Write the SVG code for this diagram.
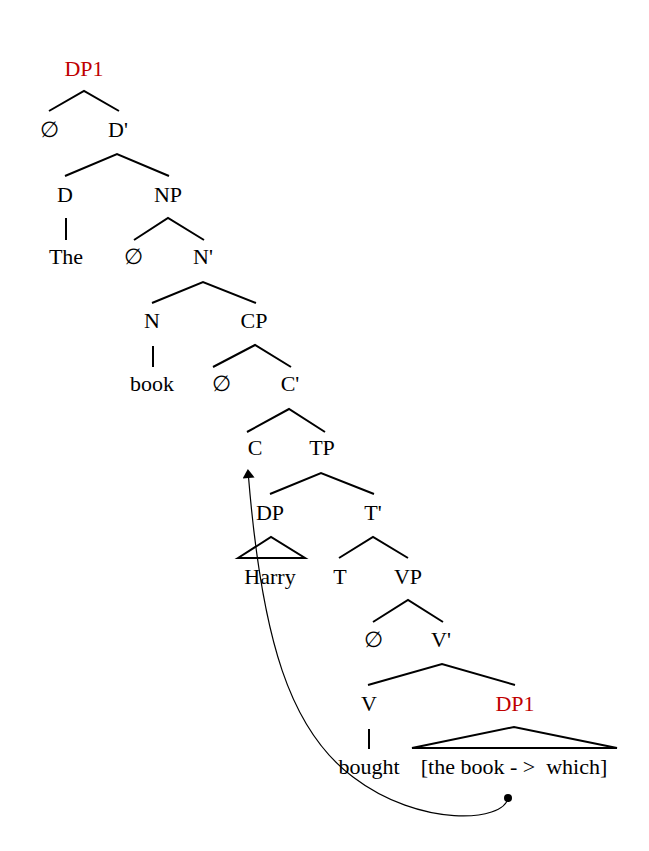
<svg xmlns="http://www.w3.org/2000/svg" width="649" height="851" viewBox="0 0 649 851">
<defs>
<style>
text{font-family:'Liberation Serif',serif;font-size:22px;fill:#000;text-anchor:middle}
text.red{fill:#c00000}
.br{fill:none;stroke:#000;stroke-width:2;stroke-linejoin:miter}
.mv{fill:none;stroke:#000;stroke-width:1.2}
</style>
<marker id="ah" markerUnits="userSpaceOnUse" markerWidth="12" markerHeight="12" viewBox="0 0 10 12" refX="0" refY="6" orient="auto">
<path d="M0,0 L9,6 L0,12 z" fill="#000"/>
</marker>
</defs>
<rect width="649" height="851" fill="#fff"/>
<g id="connectors">
<polyline class="br" points="49,111 84,91 119,111"/>
<polyline class="br" points="65,176 117,154 169,176"/>
<line class="br" x1="66" y1="218" x2="66" y2="240"/>
<polyline class="br" points="134,240 168,218 204,240"/>
<polyline class="br" points="152,303 203,282 256,303"/>
<line class="br" x1="153" y1="346" x2="153" y2="367"/>
<polyline class="br" points="213,367 255,345 291,367"/>
<polyline class="br" points="247,432 289,409 325,432"/>
<polyline class="br" points="270,494 321,473 374,494"/>
<polygon class="br" points="238,558 271,537 305,558"/>
<polyline class="br" points="339,558 373,537 408,558"/>
<polyline class="br" points="373,622 408,600 443,622"/>
<polyline class="br" points="368,685 442,664 515,685"/>
<line class="br" x1="369" y1="729" x2="369" y2="749"/>
<polygon class="br" points="412,748 514,727 617,748"/>
<path class="mv" d="M508,798 C504,822 420,828 353,777 C290,730 262,640 248.6,478" marker-end="url(#ah)"/>
<circle cx="508" cy="798" r="4" fill="#000"/>
</g>
<g font-family="Liberation Serif, serif">
<g id="n-dp1-top"><text class="red" x="84" y="76">DP1</text></g>
<g id="n-null1"><text x="49" y="137">∅</text></g>
<g id="n-dbar"><text x="118" y="137">D'</text></g>
<g id="n-d"><text x="65" y="202">D</text></g>
<g id="n-np"><text x="168" y="202">NP</text></g>
<g id="n-the"><text x="66" y="264">The</text></g>
<g id="n-null2"><text x="133" y="264">∅</text></g>
<g id="n-nbar"><text x="203" y="264">N'</text></g>
<g id="n-n"><text x="152" y="328">N</text></g>
<g id="n-cp"><text x="254" y="328">CP</text></g>
<g id="n-book"><text x="152" y="391">book</text></g>
<g id="n-null3"><text x="221" y="391">∅</text></g>
<g id="n-cbar"><text x="290" y="391">C'</text></g>
<g id="n-c"><text x="255" y="455">C</text></g>
<g id="n-tp"><text x="322" y="455">TP</text></g>
<g id="n-dp"><text x="270" y="520">DP</text></g>
<g id="n-tbar"><text x="373" y="520">T'</text></g>
<g id="n-harry"><text x="270" y="584">Harry</text></g>
<g id="n-t"><text x="340" y="584">T</text></g>
<g id="n-vp"><text x="408" y="584">VP</text></g>
<g id="n-null4"><text x="373" y="647">∅</text></g>
<g id="n-vbar"><text x="441" y="647">V'</text></g>
<g id="n-v"><text x="369" y="711">V</text></g>
<g id="n-dp1-low"><text class="red" x="515" y="711">DP1</text></g>
<g id="n-bought"><text x="369" y="774">bought</text></g>
<g id="n-which"><text x="514" y="774" xml:space="preserve" style="white-space:pre">[the book - &gt;  which]</text></g>
</g>
</svg>
